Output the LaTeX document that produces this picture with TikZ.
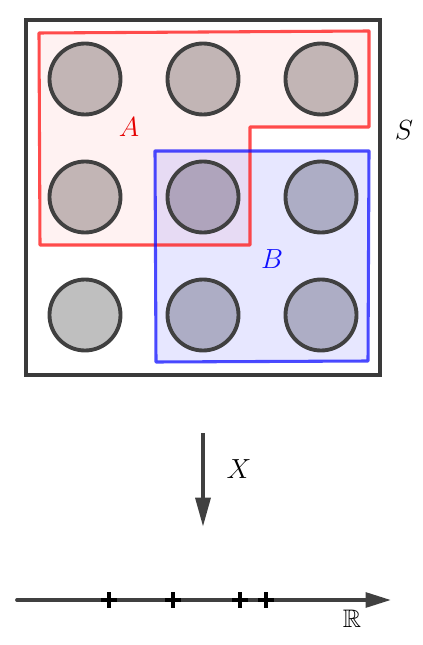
\documentclass[tikz,border=0pt]{standalone}
\usepackage{amssymb}
\usetikzlibrary{arrows.meta}
\definecolor{edge}{HTML}{404040}
\definecolor{disc}{HTML}{BFBFBF}
\definecolor{redA}{HTML}{FF2020}
\definecolor{blueB}{HTML}{1010FF}
\begin{document}
\begin{tikzpicture}[x=0.75pt,y=-0.75pt,
  lab/.style={inner sep=0pt,font=\fontsize{22.5}{26}\selectfont},
  tick/.style={black,line width=2.3pt}]
\useasboundingbox (0,0) rectangle (423,645);
% outer set S
\draw[edge!90!black,line width=2.4pt] (26,20) rectangle (380,375);
% discs
\foreach \x in {85,203,321}{
  \foreach \y in {79,197,315}{
    \fill[disc] (\x,\y) circle (35.5);
  }}
% region A
\fill[redA,opacity=0.06] (39,33) -- (369,31) -- (369,127) -- (250,127) -- (250,245) -- (40,245) -- cycle;
% region B
\fill[blueB,opacity=0.1] (155,151) -- (369,151) -- (368,361) -- (156,362) -- cycle;
% disc outlines
\foreach \x in {85,203,321}{
  \foreach \y in {79,197,315}{
    \draw[edge,line width=2.9pt] (\x,\y) circle (35.5);
  }}
\draw[redA,opacity=0.8,line width=2.3pt,line join=round] (39,33) -- (369,31) -- (369,127) -- (250,127) -- (250,245) -- (40,245) -- cycle;
\draw[blueB,opacity=0.75,line width=2.3pt,line join=round] (155,151) -- (369,151) -- (368,361) -- (156,362) -- cycle;
\node[lab,text=red!90!black] (la) at (129,127) {$A$};
\node[lab,text=blueB] (lb) at (272,259) {$B$};
\node[lab] (ls) at (404,130) {$S$};
% map X
\coordinate (xs) at (203,433);
\coordinate (xe) at (203,527);
\draw[edge,line width=3.2pt,-{Triangle[length=22pt,width=11pt]}] (xs) -- (xe);
\node[lab] (lx) at (239,469) {$X$};
% real line
\coordinate (rs) at (17,600);
\coordinate (re) at (391,600);
\draw[edge,line width=2.8pt,line cap=round,-{Triangle[length=19pt,width=11pt]}] (rs) -- (re);
\foreach \t in {109,173,240,266}{
  \draw[tick] (\t-8,600) -- (\t+8,600);
  \draw[tick] (\t,592) -- (\t,608);
}
\node[inner sep=0pt,font=\fontsize{19}{22}\selectfont] (lr) at (352,619) {$\mathbb{R}$};
\end{tikzpicture}
\end{document}
